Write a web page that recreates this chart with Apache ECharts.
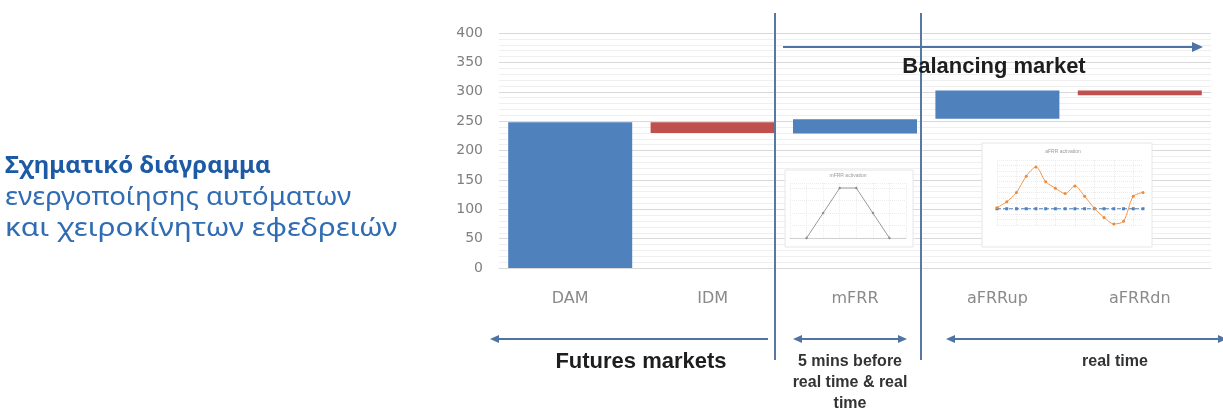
<!DOCTYPE html>
<html>
<head>
<meta charset="utf-8">
<script src="https://cdn.jsdelivr.net/npm/echarts@6/dist/echarts.min.js"></script>
<style>
html,body{margin:0;padding:0;background:#fff;}
#chart{width:1223px;height:414px;}
</style>
</head>
<body>
<div id="chart"></div>
<script>
// ---- data ----
const categories = ['DAM', 'IDM', 'mFRR', 'aFRRup', 'aFRRdn'];
const barLow  = [0, 230, 229, 254, 294];
const barHigh = [248, 248, 253, 302, 302];
const barKind = ['up', 'dn', 'up', 'up', 'dn'];
const yMin = 0, yMax = 400, yStep = 50;

// small inset: mFRR activation profile
const mfrrSteps = [1, 2, 3, 4, 5, 6];
const mfrrLevel = [0, 1, 2, 2, 1, 0];

// small inset: aFRR activation
const afrrSteps = ['0','1','2','3','4','5','6','7','8','9','10','11','12','13','14','15'];
const afrrSignal = [0.2, 1.3, 3.0, 6.0, 7.7, 5.0, 3.8, 2.8, 4.2, 2.3, 0.1, -1.6, -2.8, -2.3, 2.3, 3.0];
const afrrBase   = [0, 0, 0, 0, 0, 0, 0, 0, 0, 0, 0, 0, 0, 0, 0, 0];

const colors = { up: '#4f81bd', dn: '#c0504d' };
const annot = '#4f74a3';

const chart = echarts.init(document.getElementById('chart'), null, { renderer: 'canvas' });

const baseData = barLow.slice();
const spanData = barHigh.map((h, i) => ({
  value: h - barLow[i],
  itemStyle: { color: colors[barKind[i]] }
}));

function arrowHead(tipX, tipY, dir, len, half) {
  const bx = tipX - dir * len;
  return { type: 'polygon', z: 20, silent: true,
    shape: { points: [[tipX, tipY], [bx, tipY - half], [bx, tipY + half]] },
    style: { fill: annot } };
}
function hline(x1, x2, y, w) {
  return { type: 'line', z: 20, silent: true,
    shape: { x1: x1, y1: y, x2: x2, y2: y },
    style: { stroke: annot, lineWidth: w || 2 } };
}
function vline(x, y1, y2) {
  return { type: 'line', z: 20, silent: true,
    shape: { x1: x, y1: y1, x2: x, y2: y2 },
    style: { stroke: '#5878a3', lineWidth: 2 } };
}
function txt(x, y, s, size, weight, color, family, align, sx) {
  return { type: 'text', z: 21, silent: true, x: x, y: y, scaleX: sx || 1,
    style: { text: s, fontSize: size, fontWeight: weight || 'normal',
      fill: color || '#222', fontFamily: family || 'Liberation Sans, Arial, sans-serif',
      align: align || 'center', verticalAlign: 'middle' } };
}

const option = {
  backgroundColor: '#ffffff',
  animation: false,
  grid: [
    { left: 499, right: 12, top: 33, bottom: 146 },
    { left: 790, width: 116, top: 183, height: 55, z: 2 },
    { left: 997, width: 146, top: 160, height: 65, z: 2 }
  ],
  xAxis: [
    { type: 'category', gridIndex: 0, data: categories,
      axisLine: { show: true, lineStyle: { color: '#d9d9d9' } },
      axisTick: { show: false },
      axisLabel: { color: '#8a8a8a', fontSize: 16, fontFamily: 'DejaVu Sans', margin: 23 } },
    { type: 'value', gridIndex: 1, min: 0, max: 7, interval: 1, z: 3,
      axisLine: { show: true, lineStyle: { color: '#cfcfcf' } }, axisTick: { show: false },
      axisLabel: { show: false },
      splitLine: { show: true, lineStyle: { color: '#ececec', type: 'dotted' } } },
    { type: 'category', gridIndex: 2, data: afrrSteps, boundaryGap: false, z: 3,
      axisLine: { show: false }, axisTick: { show: false },
      axisLabel: { show: false },
      splitLine: { show: true, lineStyle: { color: '#ececec', type: 'dotted' } } }
  ],
  yAxis: [
    { type: 'value', gridIndex: 0, min: yMin, max: yMax, interval: yStep,
      axisLine: { show: false }, axisTick: { show: false },
      axisLabel: { color: '#7f7f7f', fontSize: 14, fontFamily: 'DejaVu Sans', margin: 16 },
      splitLine: { show: true, lineStyle: { color: '#d9d9d9', width: 1 } },
      minorTick: { show: false, splitNumber: 5 },
      minorSplitLine: { show: true, lineStyle: { color: '#efefef', width: 1 } } },
    { type: 'value', gridIndex: 1, min: 0, max: 2.2, interval: 0.5, z: 3,
      axisLine: { show: false }, axisTick: { show: false }, axisLabel: { show: false },
      splitLine: { show: true, lineStyle: { color: '#ececec', type: 'dotted' } } },
    { type: 'value', gridIndex: 2, min: -3, max: 9, interval: 1, z: 3,
      axisLine: { show: false }, axisTick: { show: false }, axisLabel: { show: false },
      splitLine: { show: true, lineStyle: { color: '#ececec', type: 'dotted' } } }
  ],
  series: [
    { type: 'bar', name: 'base', xAxisIndex: 0, yAxisIndex: 0, stack: 's',
      data: baseData, barWidth: 124, silent: true,
      itemStyle: { color: 'rgba(0,0,0,0)' } },
    { type: 'bar', name: 'range', xAxisIndex: 0, yAxisIndex: 0, stack: 's',
      data: spanData, barWidth: 124 },
    { type: 'line', xAxisIndex: 1, yAxisIndex: 1, z: 4,
      data: mfrrSteps.map((s, i) => [s, mfrrLevel[i]]),
      symbol: 'diamond', symbolSize: 3,
      lineStyle: { color: '#9a9a9a', width: 1 },
      itemStyle: { color: '#8a8a8a' } },
    { type: 'line', xAxisIndex: 2, yAxisIndex: 2, z: 4,
      data: afrrBase, symbol: 'rect', symbolSize: 3,
      lineStyle: { color: '#4f81bd', width: 1, type: 'dashed' },
      itemStyle: { color: '#4f81bd' } },
    { type: 'line', xAxisIndex: 2, yAxisIndex: 2, z: 5,
      data: afrrSignal, symbol: 'circle', symbolSize: 3, smooth: 0.3,
      lineStyle: { color: '#f79646', width: 1 },
      itemStyle: { color: '#e98a3c' } }
  ],
  graphic: [
    // inset boxes
    { type: 'rect', z: 1, silent: true, shape: { x: 785, y: 170, width: 128, height: 77 },
      style: { fill: '#ffffff', stroke: '#e6e6e6', lineWidth: 1 } },
    { type: 'rect', z: 1, silent: true, shape: { x: 982, y: 143, width: 170, height: 104 },
      style: { fill: '#ffffff', stroke: '#e6e6e6', lineWidth: 1 } },
    txt(848, 176, 'mFRR activation', 5, 'normal', '#9a9a9a'),
    txt(1063, 152, 'aFRR activation', 5, 'normal', '#9a9a9a'),
    // vertical separators
    vline(775, 13, 360),
    vline(921, 13, 360),
    // balancing market arrow
    hline(783, 1194, 47),
    arrowHead(1203, 47, 1, 11, 5),
    txt(994, 67, 'Balancing market', 22, 'bold', '#1e1e1e'),
    // bottom arrows
    hline(497, 768, 339),
    arrowHead(490, 339, -1, 9, 4),
    hline(800, 900, 339),
    arrowHead(793, 339, -1, 9, 4),
    arrowHead(907, 339, 1, 9, 4),
    hline(953, 1223, 339),
    arrowHead(946, 339, -1, 9, 4),
    arrowHead(1227, 339, 1, 9, 4),
    txt(641, 362, 'Futures markets', 22, 'bold', '#1e1e1e'),
    txt(850, 362, '5 mins before', 16, 'bold', '#333333'),
    txt(850, 383, 'real time & real', 16, 'bold', '#333333'),
    txt(850, 404, 'time', 16, 'bold', '#333333'),
    txt(1115, 362, 'real time', 16, 'bold', '#333333'),
    // left description
    txt(5, 166, 'Σχηματικό διάγραμμα', 24, 'bold', '#1d5aa6', 'Noto Sans, Open Sans, sans-serif', 'left', 1),
    txt(5, 198, 'ενεργοποίησης αυτόματων', 26, 'normal', '#2f6cb3', 'Noto Sans, Open Sans, sans-serif', 'left', 1.06),
    txt(5, 229, 'και χειροκίνητων εφεδρειών', 26, 'normal', '#2f6cb3', 'Noto Sans, Open Sans, sans-serif', 'left', 1.14)
  ]
};

chart.setOption(option);
</script>
</body>
</html>
